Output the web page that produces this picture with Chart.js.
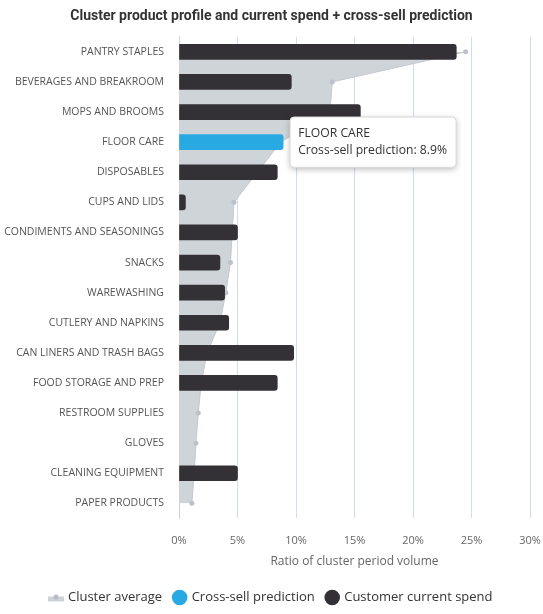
<!DOCTYPE html>
<html>
<head>
<meta charset="utf-8">
<script src="https://cdn.jsdelivr.net/npm/chart.js@4.4.1/dist/chart.umd.min.js"></script>
<style>
  html, body { margin: 0; padding: 0; background: #fff; }
  #wrap { width: 543px; height: 614px; }
</style>
</head>
<body>
<div id="wrap"><canvas id="profile-chart"></canvas></div>
<script>
// Chart data
let categories = [
    'PANTRY STAPLES', 'BEVERAGES AND BREAKROOM', 'MOPS AND BROOMS', 'FLOOR CARE',
    'DISPOSABLES', 'CUPS AND LIDS', 'CONDIMENTS AND SEASONINGS', 'SNACKS',
    'WAREWASHING', 'CUTLERY AND NAPKINS', 'CAN LINERS AND TRASH BAGS', 'FOOD STORAGE AND PREP',
    'RESTROOM SUPPLIES', 'GLOVES', 'CLEANING EQUIPMENT', 'PAPER PRODUCTS'
];
let clusterAverage = [24.5, 13.1, 12.9, 8.7, 6.7, 4.7, 4.55, 4.4, 4.0, 3.5, 2.4, 1.9, 1.65, 1.45, 1.3, 1.1];
let crossSell = [null, null, null, 8.9, null, null, null, null, null, null, null, null, null, null, null, null];
let currentSpend = [23.7, 9.6, 15.5, null, 8.4, 0.55, 5.0, 3.5, 3.9, 4.25, 9.8, 8.4, null, null, 5.0, null];
let xTicks = [0, 5, 10, 15, 20, 25, 30];

// Legend icon for the area series
let areaIcon = document.createElement('canvas');
areaIcon.width = 16;
areaIcon.height = 10;
let ic = areaIcon.getContext('2d');
ic.fillStyle = '#cdd2d8';
ic.fillRect(0, 4, 16, 5);
ic.fillStyle = '#b7bdc5';
ic.beginPath();
ic.arc(8, 4.5, 2.5, 0, Math.PI * 2);
ic.fill();

// Soft shadow behind the tooltip box
const tooltipShadow = {
    id: 'tooltipShadow',
    beforeTooltipDraw(chart, args) {
        let tt = args.tooltip;
        if (!tt.opacity) return;
        let ctx = chart.ctx;
        ctx.save();
        ctx.shadowColor = 'rgba(0,0,0,0.28)';
        ctx.shadowBlur = 6;
        ctx.shadowOffsetY = 2;
        ctx.fillStyle = '#fff';
        ctx.beginPath();
        ctx.roundRect(tt.x, tt.y, tt.width, tt.height, 4);
        ctx.fill();
        ctx.restore();
    }
};

Chart.defaults.font.family = "'Open Sans', sans-serif";
Chart.defaults.color = '#555';

const data = {
    labels: categories,
    datasets: [{
        type: 'line',
        label: 'Cluster average',
        data: clusterAverage,
        borderColor: '#c3c9d0',
        borderWidth: 1,
        backgroundColor: '#cfd4d9',
        fill: 'origin',
        tension: 0,
        pointRadius: 2.5,
        pointBackgroundColor: '#bcc2ca',
        pointBorderWidth: 0,
        order: 3
    }, {
        type: 'bar',
        label: 'Cross-sell prediction',
        data: crossSell,
        backgroundColor: '#29a9e1',
        grouped: false,
        barThickness: 15,
        borderRadius: 3,
        borderSkipped: 'start',
        order: 1
    }, {
        type: 'bar',
        label: 'Customer current spend',
        data: currentSpend,
        backgroundColor: '#333136',
        grouped: false,
        barThickness: 15,
        borderRadius: 3,
        borderSkipped: 'start',
        order: 2
    }]
};

var ctx = document.getElementById('profile-chart').getContext('2d');
var profileChart = new Chart(ctx, {
    data,
    plugins: [tooltipShadow],
    options: {
        indexAxis: 'y',
        responsive: true,
        maintainAspectRatio: false,
        animation: false,
        events: [],
        layout: { padding: { left: 0, right: 0, top: 0, bottom: 0 } },
        scales: {
            x: {
                min: 0,
                max: 30,
                afterBuildTicks: axis => { axis.ticks = xTicks.map(v => ({ value: v })); },
                afterFit: axis => { axis.paddingRight = 13; },
                ticks: {
                    callback: v => v + '%',
                    color: '#666',
                    font: { size: 11 },
                    padding: 16
                },
                grid: { color: '#d3dcec', drawTicks: false },
                border: { display: false },
                title: {
                    display: true,
                    text: 'Ratio of cluster period volume',
                    color: '#666',
                    font: { size: 12 },
                    padding: { top: -9, bottom: 10 }
                }
            },
            y: {
                afterFit: axis => { axis.width = 179; },
                ticks: {
                    color: '#555',
                    font: { size: 10.5 },
                    padding: 15,
                    autoSkip: false
                },
                grid: { display: false, drawTicks: false },
                border: { display: true, color: '#cdd3dc' }
            }
        },
        plugins: {
            title: {
                display: true,
                text: 'Cluster product profile and current spend + cross-sell prediction',
                color: '#333',
                font: { family: 'Roboto', size: 14, weight: 'bold' },
                padding: { top: 8, bottom: 12 }
            },
            legend: {
                position: 'bottom',
                labels: {
                    usePointStyle: true,
                    boxWidth: 11,
                    boxHeight: 11,
                    color: '#333',
                    font: { size: 13 },
                    padding: 12,
                    generateLabels: chart => {
                        let items = Chart.defaults.plugins.legend.labels.generateLabels(chart);
                        items.forEach(item => {
                            item.pointStyle = item.datasetIndex === 0 ? areaIcon : 'circle';
                        });
                        return items.sort((a, b) => a.datasetIndex - b.datasetIndex);
                    }
                }
            },
            tooltip: {
                backgroundColor: '#fff',
                borderColor: '#d9d9d9',
                borderWidth: 1,
                cornerRadius: 4,
                titleColor: '#333',
                bodyColor: '#333',
                titleFont: { size: 12.2, weight: 'normal' },
                bodyFont: { size: 12.2 },
                titleMarginBottom: 3,
                padding: { left: 8, right: 9, top: 9, bottom: 9 },
                displayColors: false,
                caretSize: 0,
                caretPadding: 7,
                xAlign: 'left',
                yAlign: 'center',
                callbacks: {
                    label: item => item.dataset.label + ': ' + item.parsed.x + '%'
                }
            }
        }
    }
});

// Show the cross-sell tooltip
profileChart.tooltip.setActiveElements([{ datasetIndex: 1, index: 3 }], { x: 0, y: 0 });
profileChart.update();
</script>
</body>
</html>
